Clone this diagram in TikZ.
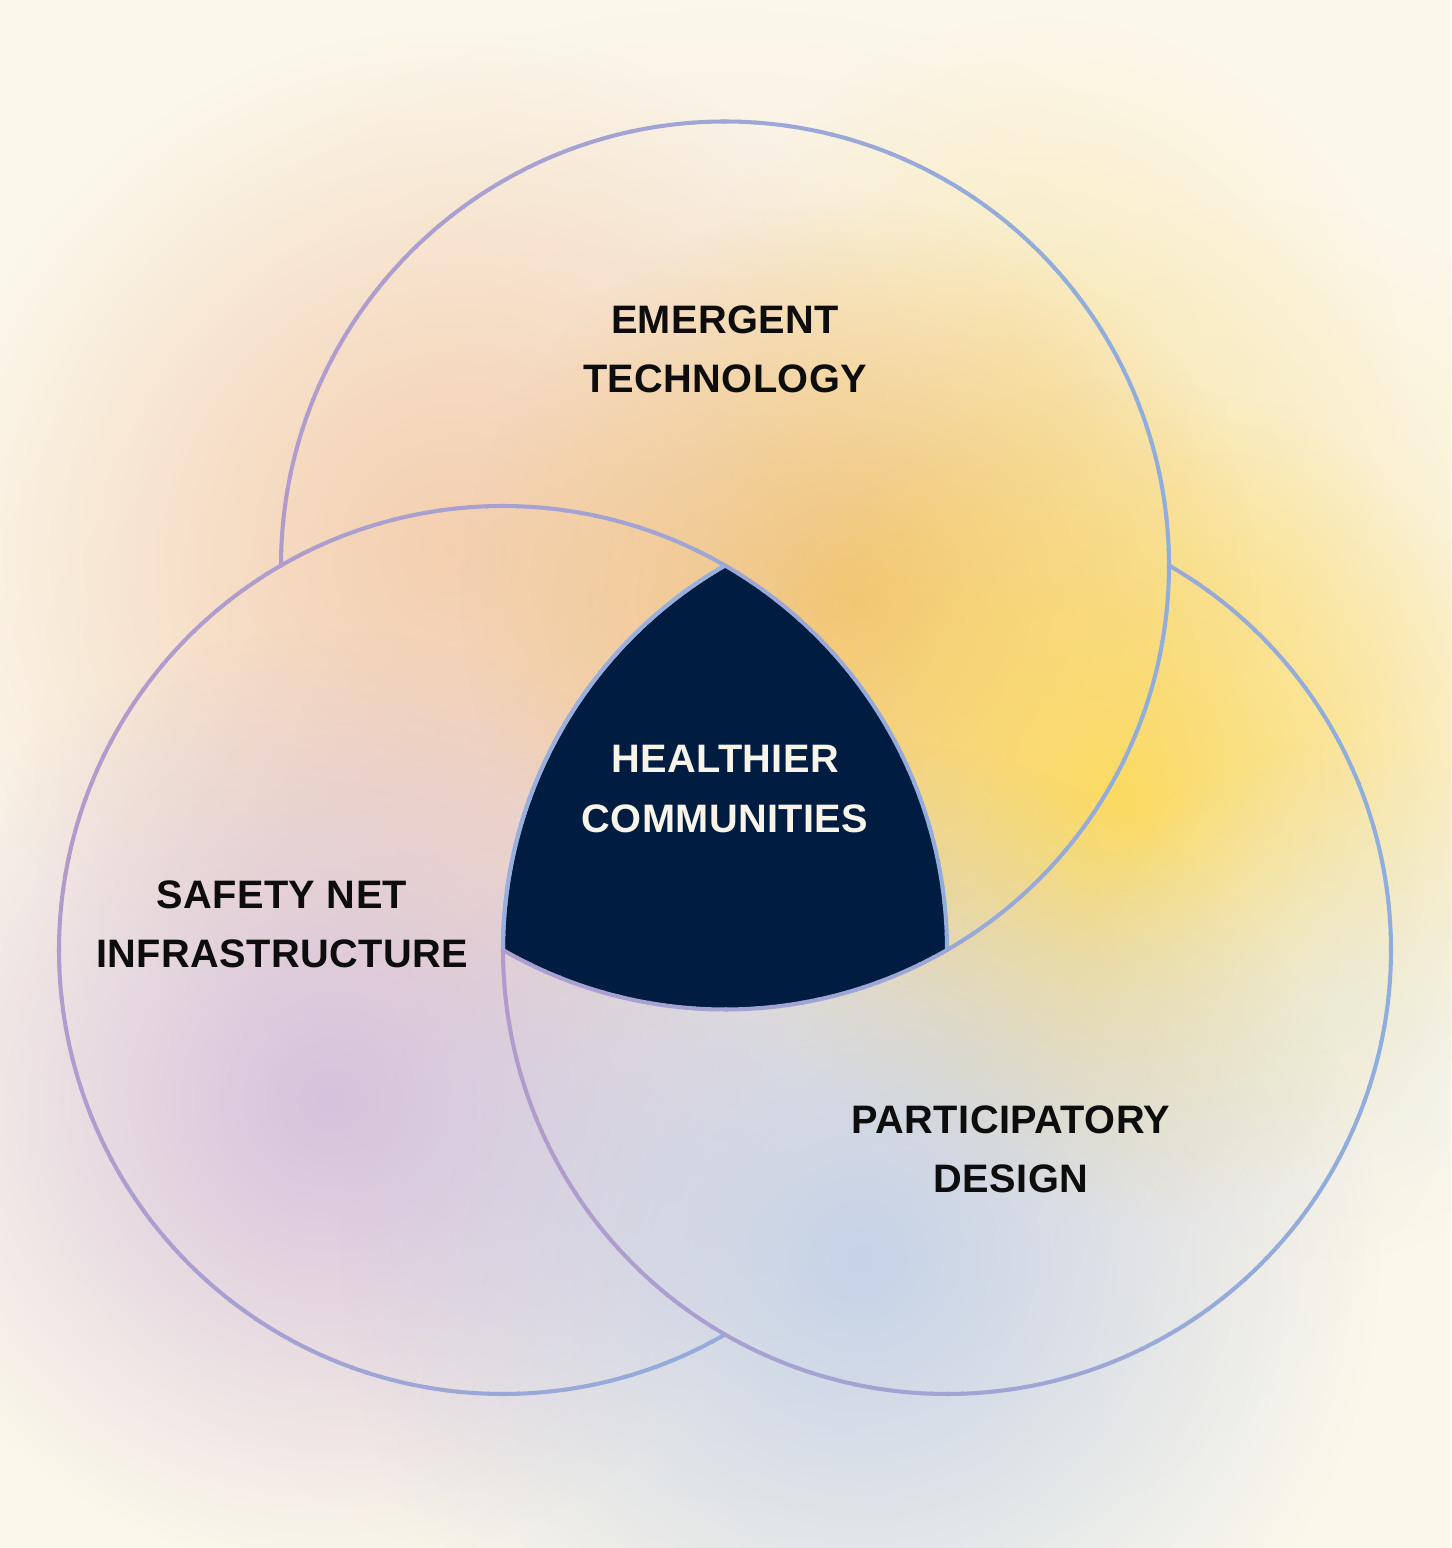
\documentclass[tikz,border=0pt]{standalone}
\usepackage{xcolor}
\usepackage{fontspec}
\setmainfont{Liberation Sans}[LetterSpace=1]
\usetikzlibrary{
	calc,
	fadings
}

\definecolor{paper}{HTML}{FBF7EA}
\definecolor{navy}{HTML}{001C40}
\definecolor{ink}{HTML}{0D0D0D}
\definecolor{paperwhite}{HTML}{F8F4EA}
\definecolor{ringpurple}{HTML}{B29BCC}
\definecolor{ringblue}{HTML}{8FAEDD}
\definecolor{edgeblue}{HTML}{98B0DE}
\definecolor{halo}{HTML}{F2D9CC}
\definecolor{peach}{HTML}{F3C6A0}
\definecolor{amber}{HTML}{EFBE6A}
\definecolor{sunny}{HTML}{FCDA5C}
\definecolor{paleyellow}{HTML}{FBE9A8}
\definecolor{mist}{HTML}{E4EBE6}
\definecolor{lilac}{HTML}{D2BDDC}
\definecolor{skyblue}{HTML}{B9CCEA}

\tikzfading[name=softspot, inner color=transparent!0, outer color=transparent!100]

\tikzset{
	venntext/.style={font=\fontsize{11.3}{16.8}\selectfont\bfseries, align=center, text=ink, inner sep=0pt},
	ring/.style={line width=1.15pt},
	blob/.style={opacity=#1, path fading=softspot}
}

\begin{document}
\begin{tikzpicture}[x=0.01cm, y=0.01cm]
	\fill[paper] (0,0) rectangle (1451,1548);
	\useasboundingbox (0,0) rectangle (1451,1548);

	\coordinate (T) at (725,982.5);
	\coordinate (L) at (503,598);
	\coordinate (R) at (947,598);

	\fill[halo, blob=.8] (725,740) circle (800);
	\fill[peach, blob=.75] (450,998) circle (520);
	\fill[paleyellow, blob=.6] (1240,948) circle (400);
	\fill[paleyellow, blob=.7] (1040,1170) circle (360);
	\fill[amber, blob=.85] (860,948) circle (400);
	\fill[sunny, blob=.95] (1120,748) circle (420);
	\fill[mist, blob=.6] (1330,548) circle (260);
	\fill[lilac, blob=.9] (330,448) circle (470);
	\fill[skyblue, blob=.8] (860,288) circle (520);

	\fill[navy] (L) arc[start angle=180, end angle=120, radius=444]
		arc[start angle=60, end angle=0, radius=444]
		arc[start angle=-60, end angle=-120, radius=444] -- cycle;

	\foreach \cen/\startang/\tilt in {T/-120/10, L/0/-20, R/120/0}{
		\foreach \i in {0,...,149}{
			\pgfmathsetmacro{\ang}{\startang+2*\i}
			\pgfmathtruncatemacro{\mixp}{50+50*cos(\ang+1-\tilt)}
			\draw[ring, ringblue!\mixp!ringpurple] ($(\cen)+(\ang:444)$) arc[start angle=\ang, delta angle=2.2, radius=444];
		}
	}

	\draw[ring, edgeblue] (L) arc[start angle=180, end angle=120, radius=444];

	\node[venntext] (emergent) at (725,1199) {EMERGENT\\TECHNOLOGY};
	\node[venntext, text=paperwhite] (healthier) at (725,759) {HEALTHIER\\COMMUNITIES};
	\node[venntext] (safetynet) at (282,624) {SAFETY NET\\INFRASTRUCTURE};
	\node[venntext] (participatory) at (1011,399) {PARTICIPATORY\\DESIGN};
\end{tikzpicture}
\end{document}
